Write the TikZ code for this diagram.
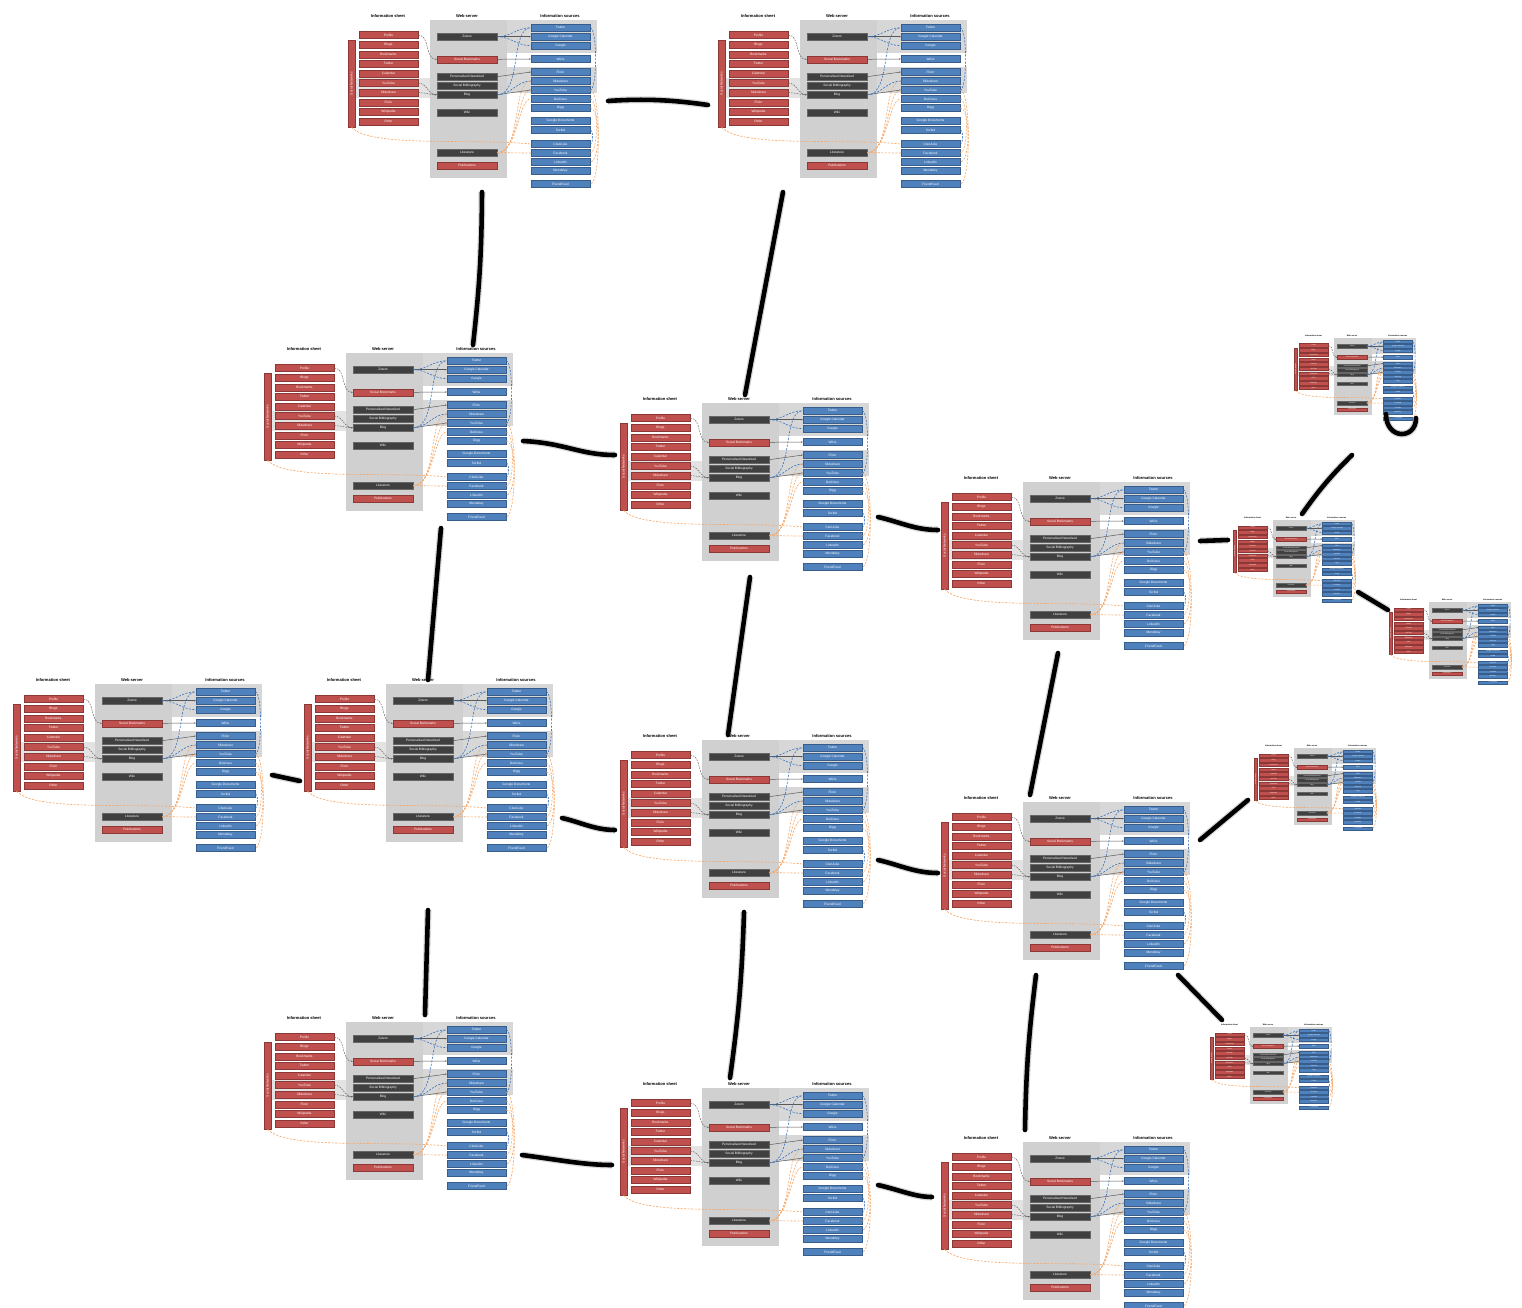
\documentclass[tikz,border=0pt]{standalone}
\usepackage{fontspec}
\setmainfont{Liberation Sans}
\usetikzlibrary{arrows.meta}

\definecolor{itemred}{HTML}{C0504D}
\definecolor{itemredline}{HTML}{8C3836}
\definecolor{itemblue}{HTML}{4F81BD}
\definecolor{itemblueline}{HTML}{385D8A}
\definecolor{itemdark}{HTML}{404040}
\definecolor{panelgrey}{HTML}{D0D0D0}
\definecolor{linkorange}{HTML}{F7A869}
\definecolor{linkblue}{HTML}{3F77BE}

\tikzset{
  paneitem/.style={draw, line width=0.4pt, inner sep=0pt, minimum height=0.35cm,
    font=\fontsize{4.6}{5}\selectfont, text=white},
  reditem/.style={paneitem, fill=itemred, draw=itemredline, minimum width=2.95cm},
  darkitem/.style={paneitem, fill=itemdark, draw=black!60, minimum width=3cm},
  midreditem/.style={paneitem, fill=itemred, draw=itemredline, minimum width=3cm},
  blueitem/.style={paneitem, fill=itemblue, draw=itemblueline, minimum width=2.95cm},
  redbar/.style={paneitem, fill=itemred, draw=itemredline, minimum width=4.35cm, rotate=90},
  headtext/.style={font=\bfseries\fontsize{5.8}{6}\selectfont, inner sep=0pt},
  greylink/.style={draw=black!60, dash pattern=on 2.5pt off 1.5pt, line width=0.7pt,
    -{Stealth[length=2.5pt]}},
  darklink/.style={draw=black!65, line width=0.7pt, -{Stealth[length=2.5pt]}},
  bluelink/.style={draw=linkblue, dash pattern=on 3pt off 2pt, line width=0.9pt},
  orangelink/.style={draw=linkorange, dash pattern=on 3pt off 2pt, line width=0.9pt},
  pathlink/.style={line width=6.5pt, line cap=round, black,
    preaction={draw, line width=10pt, black!45, opacity=0.35}},
}

% one panel: name, x and y of the grey box corner, scale
\newcommand{\infopanel}[4]{%
  \begin{scope}[shift={(#2,#3)}, scale=#4, transform shape]
    \fill[panelgrey] (0,0) rectangle (77,158);
    \fill[panelgrey, opacity=0.85] (77,0) rectangle (167,33);
    \fill[panelgrey, opacity=0.85] (77,47) rectangle (167,73);
    \fill[panelgrey, opacity=0.6] (-75,58) rectangle (0,78);

    \node[headtext] (#1h1) at (-42,-4) {Information sheet};
    \node[headtext] (#1h2) at (37,-4)  {Web server};
    \node[headtext] (#1h3) at (130,-4) {Information sources};

    \node[redbar] (#1bar) at (-78.5,63.5) {Social Networks};
    \foreach \lbl [count=\i] in {Profile, Blogs, Bookmarks, Twitter, Calendar,
        YouTube, Slideshare, Flickr, Wikipedia, Other}
      \node[reditem] (#1r\i) at (-41.5,{15+9.6*(\i-1)}) {\lbl};
    \foreach \lbl/\yy/\sty [count=\i] in {Zotero/16.7/darkitem,
        Social Bookmarks/39.3/midreditem, Personalised Newsfeed/56.7/darkitem,
        Social Bibliography/65.7/darkitem, Blog/74.7/darkitem, Wiki/92.7/darkitem,
        Literature/132.7/darkitem, Publications/145.7/midreditem}
      \node[\sty] (#1m\i) at (37,\yy) {\lbl};
    \foreach \lbl/\yy [count=\i] in {Twitter/7.7, Google Calendar/16.7, Google/25.7,
        Wikis/39, Flickr/52, Slideshare/61, YouTube/70, Delicious/79, Digg/88,
        Google Documents/101, Scribd/110, CiteULike/124, Facebook/133,
        LinkedIn/142, Mendeley/151, FriendFeed/164}
      \node[blueitem] (#1b\i) at (130.5,\yy) {\lbl};

    \draw[greylink] (#1r1.east) to[out=0,in=180] (#1m2.west);
    \draw[greylink] (#1r6.east) to[out=0,in=180] (#1m5.west);
    \draw[greylink] (#1r7.east) to[out=0,in=180] (#1m5.west);
    \draw[darklink] (#1m1.east) -- (#1b2.west);
    \draw[darklink] (#1m2.east) -- (#1b4.west);
    \draw[darklink] (#1m3.east) -- (#1b5.west);
    \draw[darklink] (#1m5.east) -- (#1b7.west);
    \draw[bluelink] (#1m1.east) to[out=0,in=180] (#1b1.west);
    \draw[bluelink] (#1m1.east) to[out=0,in=180] (#1b3.west);
    \draw[bluelink] (#1m5.east) .. controls (92,74.7) and (80,8) .. (#1b1.west);
    \draw[bluelink] (#1m5.east) to[out=0,in=180] (#1b6.west);
    \draw[orangelink] (#1bar.west) .. controls (-60,128) and (40,118) .. (#1b12.west);
    \draw[orangelink] (#1m7.east) .. controls (92,132.7) and (82,61) .. (#1b6.west);
    \draw[orangelink] (#1m7.east) .. controls (90,132.7) and (86,70) .. (#1b7.west);
    \draw[orangelink] (#1m7.east) .. controls (88,132.7) and (88,79) .. (#1b8.west);
    \draw[orangelink] (#1m7.east) to[out=0,in=180] (#1b13.west);
    \draw[orangelink] (#1b7.east) to[out=0,in=0,looseness=0.3] (#1b16.east);
    \draw[orangelink] (#1b8.east) to[out=0,in=0,looseness=0.4] (#1b13.east);
    \draw[orangelink] (#1b9.east) to[out=0,in=0,looseness=0.5] (#1b14.east);
    \draw[bluelink] (#1b1.east) to[out=0,in=0,looseness=0.3] (#1b7.east);
    \draw[bluelink] (#1b11.east) to[out=0,in=0,looseness=0.6] (#1b12.east);
  \end{scope}}

\begin{document}
\begin{tikzpicture}[x=0.05cm, y=-0.05cm]
  \useasboundingbox (0,0) rectangle (1522,1307);

  \infopanel{pA}{430}{20}{1}
  \infopanel{pB}{800}{20}{1}
  \infopanel{pC}{346}{353}{1}
  \infopanel{pD}{702}{403}{1}
  \infopanel{pE}{1023}{482}{1}
  \infopanel{pF}{95}{684}{1}
  \infopanel{pG}{386}{684}{1}
  \infopanel{pH}{702}{740}{1}
  \infopanel{pI}{1023}{802}{1}
  \infopanel{pJ}{346}{1022}{1}
  \infopanel{pK}{702}{1088}{1}
  \infopanel{pL}{1023}{1142}{1}
  \infopanel{sA}{1334}{338}{0.49}
  \infopanel{sB}{1273}{520}{0.49}
  \infopanel{sC}{1429}{602}{0.49}
  \infopanel{sD}{1294}{748}{0.49}
  \infopanel{sE}{1250}{1027}{0.49}

  % ends of the links between the panels
  \coordinate (AB-a) at (608,101);  \coordinate (AB-b) at (708,105);
  \coordinate (AC-a) at (482,192);  \coordinate (AC-b) at (473,345);
  \coordinate (BD-a) at (783,192);  \coordinate (BD-b) at (745,395);
  \coordinate (CD-a) at (523,441);  \coordinate (CD-b) at (615,455);
  \coordinate (DE-a) at (878,517);  \coordinate (DE-b) at (938,530);
  \coordinate (EsB-a) at (1200,541); \coordinate (EsB-b) at (1228,540);
  \coordinate (sBsA-a) at (1302,514); \coordinate (sBsA-b) at (1352,455);
  \coordinate (sAh-a) at (1386,414); \coordinate (sAh-b) at (1416,418);
  \coordinate (sBsC-a) at (1358,592); \coordinate (sBsC-b) at (1388,610);
  \coordinate (DH-a) at (750,577);  \coordinate (DH-b) at (728,735);
  \coordinate (CG-a) at (441,528);  \coordinate (CG-b) at (428,680);
  \coordinate (FG-a) at (272,775);  \coordinate (FG-b) at (300,781);
  \coordinate (GH-a) at (562,818);  \coordinate (GH-b) at (615,830);
  \coordinate (HI-a) at (878,860);  \coordinate (HI-b) at (938,873);
  \coordinate (EI-a) at (1058,653); \coordinate (EI-b) at (1030,795);
  \coordinate (IsD-a) at (1200,840); \coordinate (IsD-b) at (1248,800);
  \coordinate (IsE-a) at (1178,975); \coordinate (IsE-b) at (1222,1020);
  \coordinate (IL-a) at (1036,975); \coordinate (IL-b) at (1025,1130);
  \coordinate (GJ-a) at (428,910);  \coordinate (GJ-b) at (425,1015);
  \coordinate (HK-a) at (744,912);  \coordinate (HK-b) at (730,1078);
  \coordinate (JK-a) at (522,1155); \coordinate (JK-b) at (612,1165);
  \coordinate (KL-a) at (878,1185); \coordinate (KL-b) at (932,1197);

  \draw[pathlink] (AB-a) .. controls (650,98) and (680,101) .. (AB-b);
  \draw[pathlink] (AC-a) to[bend left=3] (AC-b);
  \draw[pathlink] (BD-a) -- (BD-b);
  \draw[pathlink] (CD-a) .. controls (565,443) and (580,455) .. (CD-b);
  \draw[pathlink] (DE-a) .. controls (900,522) and (915,530) .. (DE-b);
  \draw[pathlink] (EsB-a) -- (EsB-b);
  \draw[pathlink] (sBsA-a) to[bend left=5] (sBsA-b);
  \draw[pathlink] (sAh-a) .. controls (1386,440) and (1416,440) .. (sAh-b);
  \draw[pathlink] (sBsC-a) -- (sBsC-b);
  \draw[pathlink] (DH-a) -- (DH-b);
  \draw[pathlink] (CG-a) -- (CG-b);
  \draw[pathlink] (FG-a) -- (FG-b);
  \draw[pathlink] (GH-a) .. controls (580,822) and (595,830) .. (GH-b);
  \draw[pathlink] (HI-a) .. controls (900,865) and (915,873) .. (HI-b);
  \draw[pathlink] (EI-a) -- (EI-b);
  \draw[pathlink] (IsD-a) -- (IsD-b);
  \draw[pathlink] (IsE-a) -- (IsE-b);
  \draw[pathlink] (IL-a) to[bend right=3] (IL-b);
  \draw[pathlink] (GJ-a) -- (GJ-b);
  \draw[pathlink] (HK-a) to[bend left=3] (HK-b);
  \draw[pathlink] (JK-a) .. controls (560,1160) and (585,1165) .. (JK-b);
  \draw[pathlink] (KL-a) .. controls (900,1190) and (915,1197) .. (KL-b);
\end{tikzpicture}
\end{document}
